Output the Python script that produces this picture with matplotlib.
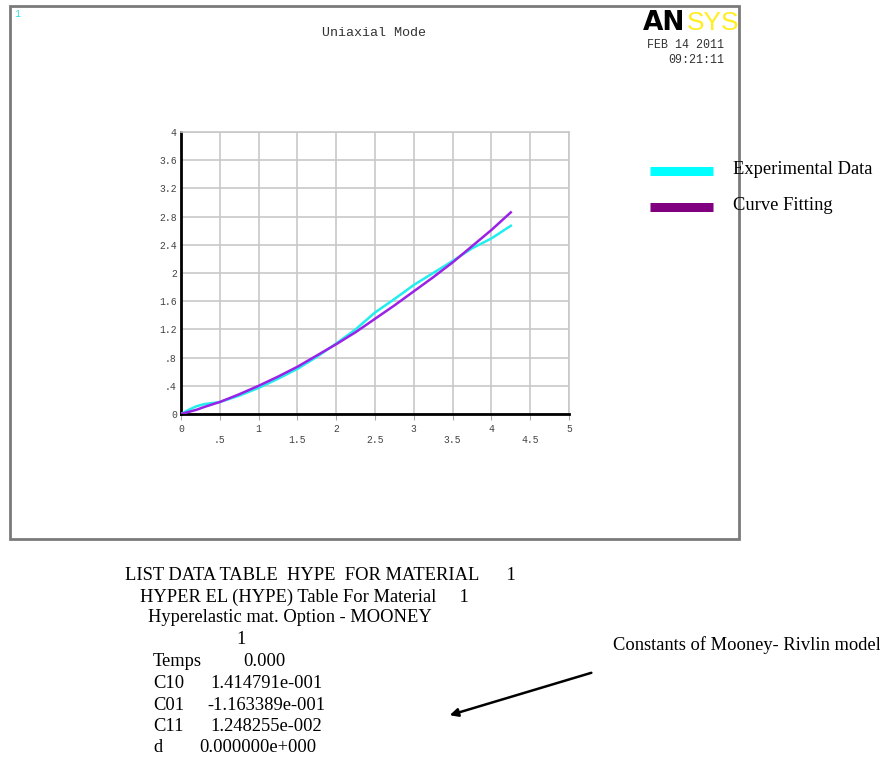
import matplotlib
matplotlib.use("Agg")
import matplotlib.pyplot as plt
from matplotlib.patches import Rectangle, FancyArrowPatch

# data
x_exp = [0, 0.1, 0.2, 0.3, 0.5, 0.75, 1.0, 1.25, 1.5, 1.75, 2.0, 2.25, 2.5, 2.75, 3.0, 3.25, 3.5, 3.75, 4.0, 4.25]
y_exp = [0, 0.06, 0.11, 0.14, 0.17, 0.26, 0.37, 0.50, 0.64, 0.81, 1.00, 1.20, 1.44, 1.63, 1.83, 2.00, 2.17, 2.35, 2.49, 2.67]
x_fit = [0, 0.1, 0.2, 0.3, 0.5, 0.75, 1.0, 1.25, 1.5, 1.75, 2.0, 2.25, 2.5, 2.75, 3.0, 3.25, 3.5, 3.75, 4.0, 4.25]
y_fit = [0, 0.03, 0.06, 0.10, 0.17, 0.28, 0.40, 0.53, 0.67, 0.83, 0.99, 1.16, 1.35, 1.54, 1.74, 1.94, 2.15, 2.38, 2.61, 2.86]

xticks = [0, 0.5, 1, 1.5, 2, 2.5, 3, 3.5, 4, 4.5, 5]
xlabels = ["0", "\n.5", "1", "\n1.5", "2", "\n2.5", "3", "\n3.5", "4", "\n4.5", "5"]
yticks = [0, 0.4, 0.8, 1.2, 1.6, 2, 2.4, 2.8, 3.2, 3.6, 4]
ylabels = ["0", ".4", ".8", "1.2", "1.6", "2", "2.4", "2.8", "3.2", "3.6", "4"]

legend_names = ["Experimental Data", "Curve Fitting"]
table_lines = [
    "LIST DATA TABLE  HYPE  FOR MATERIAL      1",
    "HYPER EL (HYPE) Table For Material     1",
    "Hyperelastic mat. Option - MOONEY",
]
const_names = ["Temps", "C10", "C01", "C11", "d"]
const_values = ["0.000", "1.414791e-001", "-1.163389e-001", "1.248255e-002", "0.000000e+000"]

W, H = 880, 759
fig = plt.figure(figsize=(W / 100, H / 100), dpi=100)
fig.patch.set_facecolor("white")

def fx(px):
    return px / W

def fy(py):
    return 1 - py / H

mono = "Liberation Mono"
serif = "Liberation Serif"
big = 13.3

# ANSYS window frame
fig.patches.append(Rectangle((fx(10), fy(539)), fx(739) - fx(10), fy(6) - fy(539),
                             transform=fig.transFigure, fill=False,
                             edgecolor="#7a7a7a", lw=2))

ax = fig.add_axes([fx(181), fy(414), fx(569) - fx(181), fy(132) - fy(414)])
ax.plot(x_exp, y_exp, color="#22eeee", lw=1.8, zorder=3)
ax.plot(x_fit, y_fit, color="#9a22e6", lw=1.8, zorder=4)

ax.set_xlim(0, 5)
ax.set_ylim(0, 4)
ax.set_xticks(xticks)
ax.set_xticklabels(xlabels, fontfamily=mono, fontsize=7, color="#444444")
ax.set_yticks(yticks)
ax.set_yticklabels(ylabels, fontfamily=mono, fontsize=7, color="#444444")
ax.tick_params(axis="x", length=4, color="#aaaaaa", pad=3)
ax.tick_params(axis="y", length=0, pad=3)
ax.grid(True, color="#c8c8c8", lw=1.2)
ax.set_axisbelow(True)
for side in ["top", "right"]:
    ax.spines[side].set_color("#c8c8c8")
    ax.spines[side].set_linewidth(1.2)
for side in ["left", "bottom"]:
    ax.spines[side].set_color("black")
    ax.spines[side].set_linewidth(2)

# header texts
fig.text(fx(14), fy(14), "1", color="#33dddd", fontsize=7, fontfamily=mono, va="center")
fig.text(fx(374), fy(33), "Uniaxial Mode", color="#333333", fontsize=9.6,
         fontfamily=mono, ha="center", va="center")
fig.text(fx(643), fy(30), "AN", color="black", fontsize=19, fontweight="bold",
         fontfamily="DejaVu Sans", va="baseline")
fig.text(fx(687), fy(30), "SYS", color="#ffee22", fontsize=19,
         fontfamily="Liberation Sans", va="baseline")
fig.text(fx(724), fy(45), "FEB 14 2011", color="#333333", fontsize=8.4,
         fontfamily=mono, ha="right", va="center")
fig.text(fx(724), fy(60), "09:21:11", color="#333333", fontsize=8.4,
         fontfamily=mono, ha="right", va="center")

# legend
leg_colors = ["#00ffff", "#800080"]
for i, (name, c) in enumerate(zip(legend_names, leg_colors)):
    yy = fy(171 + 36 * i)
    fig.add_artist(plt.Line2D([fx(650), fx(713)], [yy, yy], color=c, lw=6.5,
                              solid_capstyle="butt", transform=fig.transFigure))
    fig.text(fx(733), yy + 0.002, name, fontsize=big, fontfamily=serif, va="center")

# data table listing
line_y = [576, 597, 618]
line_x = [125, 140, 148]
for txt, xx, yy in zip(table_lines, line_x, line_y):
    fig.text(fx(xx), fy(yy), txt, fontsize=big, fontfamily=serif, va="center")
fig.text(fx(236), fy(640), "1", fontsize=big, fontfamily=serif, va="center")
value_x = [243, 210, 207, 210, 199]
for i, (nm, val) in enumerate(zip(const_names, const_values)):
    yy = fy(662 + 21.5 * i)
    fig.text(fx(153), yy, nm, fontsize=big, fontfamily=serif, va="center")
    fig.text(fx(value_x[i]), yy, val, fontsize=big, fontfamily=serif, va="center")

fig.text(fx(613), fy(645), "Constants of Mooney- Rivlin model", fontsize=big,
         fontfamily=serif, va="center")
fig.add_artist(FancyArrowPatch(
    (fx(594), fy(672)), (fx(447), fy(716)), transform=fig.transFigure,
    arrowstyle="-|>", mutation_scale=12, color="black", lw=1.8))

fig.savefig("out.png", dpi=100)
